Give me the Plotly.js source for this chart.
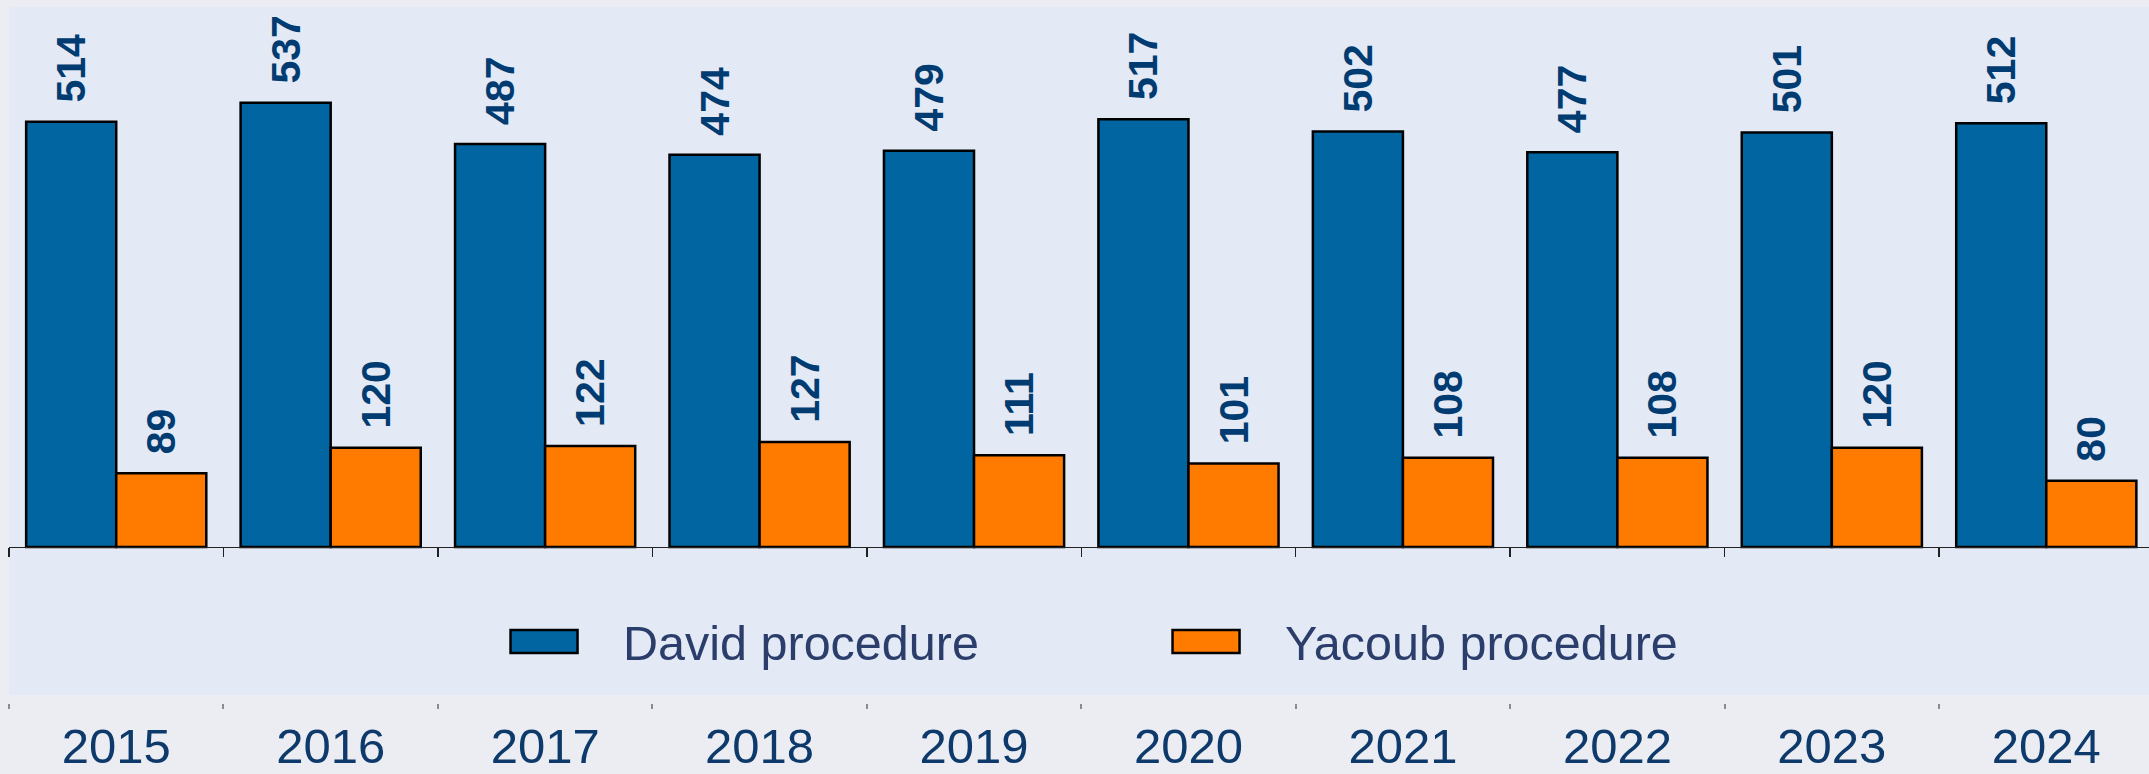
<!DOCTYPE html>
<html>
<head>
<meta charset="utf-8">
<script src="https://cdn.plot.ly/plotly-3.0.1.min.js"></script>
<style>html,body{margin:0;padding:0;background:#ECEDF3;}#chart{width:2149px;height:774px;}</style>
</head>
<body>
<div id="chart"></div>
<script>
const years = ['2015','2016','2017','2018','2019','2020','2021','2022','2023','2024'];
const david = [514,537,487,474,479,517,502,477,501,512];
const yacoub = [89,120,122,127,111,101,108,108,120,80];
const seriesNames = ['David procedure','Yacoub procedure'];

const FONT = 'Liberation Sans, Arial, sans-serif';
const labelFont = {family: FONT, size: 41, color: '#003B71', weight: 'bold'};
const PAD = '<span style="font-size:29px">\u00A0\u00A0</span>';

function barTrace(name, vals, color) {
  return {
    type: 'bar', name: name, x: years, y: vals,
    marker: {color: color, line: {color: '#000000', width: 2.5}},
    text: vals.map(v => PAD + v),
    textposition: 'outside', textangle: -90, textfont: labelFont,
    constraintext: 'none', cliponaxis: false, hoverinfo: 'skip'
  };
}

const data = [
  barTrace(seriesNames[0], david, '#0065A1'),
  barTrace(seriesNames[1], yacoub, '#FF7B00'),
  {type: 'scatter', mode: 'markers', x: years, y: years.map(() => null),
   xaxis: 'x2', yaxis: 'y', showlegend: false, hoverinfo: 'skip'}
];

const xr = [-0.5, 9.479];
const layout = {
  width: 2149, height: 774,
  paper_bgcolor: '#ECEDF3', plot_bgcolor: '#E3E9F5',
  margin: {l: 9, r: 0, t: 7, b: 71, pad: 0},
  barmode: 'group', bargap: 0.16, bargroupgap: 0,
  font: {family: FONT},
  xaxis: {
    type: 'category', categoryorder: 'array', categoryarray: years, range: xr,
    anchor: 'free', position: 0, showline: false, showgrid: false, zeroline: false,
    ticks: 'outside', tickson: 'boundaries', ticklen: 5, tickwidth: 2, tickcolor: '#8c8c8c',
    ticklabelstandoff: 10,
    tickfont: {family: FONT, size: 49, color: '#0D3A6B'}
  },
  xaxis2: {
    type: 'category', categoryorder: 'array', categoryarray: years, range: xr,
    overlaying: 'x', anchor: 'free', position: 0.22414, side: 'bottom',
    showline: true, linecolor: '#222222', linewidth: 1.5,
    ticks: 'outside', tickson: 'boundaries', ticklen: 9, tickwidth: 1.5, tickcolor: '#222222',
    showticklabels: false, showgrid: false, zeroline: false
  },
  yaxis: {domain: [0.01149, 1], range: [-178.85, 652.6], visible: false, showgrid: false, zeroline: false},
  showlegend: true,
  legend: {
    orientation: 'h', x: 0.2131, xanchor: 'left', y: 0.0876, yanchor: 'middle',
    bgcolor: 'rgba(0,0,0,0)', font: {family: FONT, size: 48.5, color: '#2B3D6B'},
    itemwidth: 148, entrywidth: 499, entrywidthmode: 'pixels'
  },
  hovermode: false
};

Plotly.newPlot('chart', data, layout, {displayModeBar: false, staticPlot: true}).then(function (gd) {
  // enlarge the legend swatches to the reference's wide rectangles
  gd.querySelectorAll('.legend .legendpoints path').forEach(function (p) {
    p.setAttribute('d', 'M33.5,11.5H-33.5V-11.5H33.5Z');
  });
});
</script>
</body>
</html>
